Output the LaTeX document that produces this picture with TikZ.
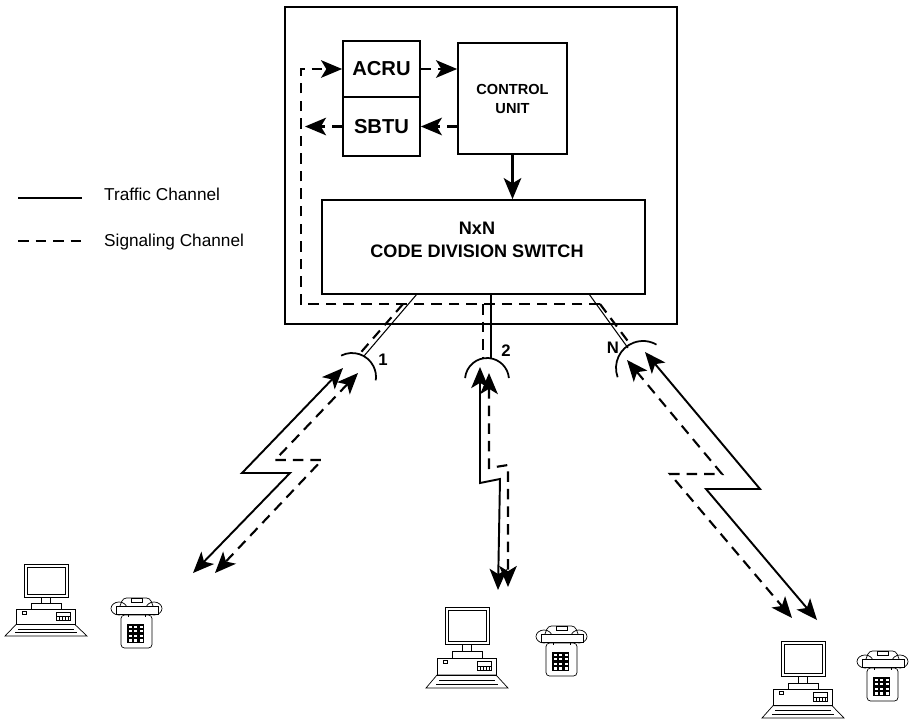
\documentclass[tikz,border=0pt]{standalone}
\usepackage{fontspec}
\setmainfont{Liberation Sans}
\usetikzlibrary{arrows.meta}

\tikzset{
    unit/.style={draw, line width=1pt, inner sep=0pt, align=center},
    traffic/.style={line width=1.1pt},
    signal/.style={line width=1.2pt, dash pattern=on 6pt off 4pt},
    feed/.style={line width=0.6pt},
    dish/.style={line width=1pt},
    chan/.style={font=\fontsize{9.5}{11}\selectfont\bfseries},
    computer/.pic={
        \draw[thin] (0,0) -- (82,0) -- (70,-13) -- (11,-13) -- cycle;
        \draw[thin] (10,-4) -- (72,-4) (13,-8) -- (69,-8);
        \draw[thin] (11,-13) rectangle (70,-30);
        \draw[thin] (17,-25) rectangle (21,-28);
        \draw[thin] (51,-22) rectangle (65,-27);
        \draw[thin] (51,-22) rectangle (65,-18);
        \foreach \k in {54,57,60,63}
            \draw[thin] (\k,-22) -- (\k,-18);
        \draw[thin] (26,-30) rectangle (56,-37);
        \draw[thin] (36,-37) rectangle (45,-44);
        \draw[thin] (19,-44) rectangle (63,-81);
        \draw[thin] (22,-47) rectangle (60,-78);
    },
    phone/.pic={
        \draw[thin, rounded corners=2] (10,18) rectangle (41,51);
        \draw[thin, rounded corners=2] (9,9) -- (12,1) -- (39,1) -- (42,9);
        \draw[thin] (20,1) rectangle (31,5);
        \draw[thin] (8,11.5) ellipse (8 and 6.5);
        \draw[thin] (43,11.5) ellipse (8 and 6.5);
        \draw[thin, fill=white] (5,9) rectangle (47,17);
        \draw[thin] (17,17) -- (17,20) (34,17) -- (34,20);
        \foreach \i in {0,1,2}
            \foreach \j in {0,...,3}
                \draw[line width=0.6pt] ({17+\i*5.5},{28+\j*4.6}) rectangle +(4.3,3.4);
    }
}

\begin{document}
\begin{tikzpicture}[x=0.02cm, y=-0.02cm, >={Stealth[length=12pt, width=10pt, inset=3pt]}]
    \useasboundingbox (0,0) rectangle (909,721);

    % exchange and its units
    \node[unit, minimum width=7.84cm, minimum height=6.34cm] (exch) at (481,165.5) {};
    \node[unit, minimum width=1.54cm, minimum height=1.12cm,
        font=\fontsize{11.5}{13}\selectfont\bfseries] (acru) at (381.5,69) {ACRU};
    \node[unit, minimum width=1.54cm, minimum height=1.18cm,
        font=\fontsize{11.5}{13}\selectfont\bfseries] (sbtu) at (381.5,126.5) {SBTU};
    \node[unit, minimum width=2.18cm, minimum height=2.22cm,
        font=\fontsize{8.3}{10.8}\selectfont\bfseries] (cu) at (512.5,98.5) {CONTROL\\UNIT};
    \node[unit, minimum width=6.46cm, minimum height=1.88cm] (sw) at (483.5,247) {};
    \node[font=\fontsize{10.3}{13.1}\selectfont\bfseries, align=center] (swtext)
        at (477,240) {NxN\\CODE DIVISION SWITCH};

    % signaling loop
    \coordinate (sbtuout) at (305,126.5);
    \coordinate (loopsw) at (301,304);
    \coordinate (loopse) at (600,304);
    \draw[signal, ->] (acru.east) -- (acru.east -| cu.west);
    \draw[signal, ->] (sbtu.east -| cu.west) -- (sbtu.east);
    \draw[signal, ->] (sbtu.west) -- (sbtuout);
    \draw[signal, ->] (loopse) -- (loopsw) -- (loopsw |- acru.west) -- (acru.west);
    \draw[traffic, line width=1.3pt, ->] (cu.south) -- (cu.south |- sw.north);

    % antennas
    \coordinate (ant1) at (352,377);
    \coordinate (ant2) at (487,380);
    \coordinate (antN) at (643,368);
    \draw[dish] ([shift={(-117:24)}]ant1) arc[start angle=-117, end angle=8, radius=24];
    \draw[dish] ([shift={(-175:22)}]ant2) arc[start angle=-175, end angle=-5, radius=22];
    \draw[dish] ([shift={(-200:27)}]antN) arc[start angle=-200, end angle=-60, radius=27];
    \node[chan] (ch1) at (383,360) {1};
    \node[chan] (ch2) at (506,351) {2};
    \node[chan] (chN) at (613,348) {N};

    % feeders from the switch
    \coordinate (sw1) at (417,294);
    \coordinate (sw2) at (491,294);
    \coordinate (swN) at (589,294);
    \coordinate (sg1) at (403,304);
    \coordinate (sg2) at (483,304);
    \coordinate (fd1) at (364,356);
    \coordinate (fd2) at (491,358);
    \coordinate (fdN) at (628,348);
    \coordinate (fs1) at (359.5,354);
    \coordinate (fs2) at (483,358);
    \coordinate (fsN) at (630,344);
    \draw[feed] (sw1) -- (fd1);
    \draw[feed] (sw2) -- (fd2);
    \draw[feed] (swN) -- (fdN);
    \draw[signal] (sg1) -- (fs1);
    \draw[signal] (sg2) -- (fs2);
    \draw[signal] (loopse) -- (fsN);

    % radio links
    \coordinate (r1a) at (343,368);
    \coordinate (r1b) at (193,573);
    \coordinate (s1a) at (358,373);
    \coordinate (s1b) at (215,573);
    \draw[traffic, <->] (r1a) -- (242,473) -- (290,473) -- (r1b);
    \draw[signal, <->] (s1a) -- (275,460) -- (322,460) -- (s1b);

    \coordinate (r2a) at (480,367);
    \coordinate (r2b) at (498,590);
    \coordinate (s2a) at (489,373);
    \coordinate (s2b) at (508,587);
    \draw[traffic, <->] (r2a) -- (480,483) -- (500,479) -- (r2b);
    \draw[signal, <->] (s2a) -- (489,468) -- (508,465) -- (s2b);

    \coordinate (rNa) at (645,352);
    \coordinate (rNb) at (817,620);
    \coordinate (sNa) at (627,360);
    \coordinate (sNb) at (792,618);
    \draw[traffic, <->] (rNa) -- (760,489) -- (706,489) -- (rNb);
    \draw[signal, <->] (sNa) -- (722,474) -- (670,474) -- (sNb);

    % terminals
    \pic[yscale=0.88] at (5,636) {computer};
    \pic at (111,597) {phone};
    \pic at (426,688) {computer};
    \pic at (536,625) {phone};
    \pic[yscale=0.95] at (762,718) {computer};
    \pic at (857,650) {phone};

    % legend
    \coordinate (lgt) at (18,198);
    \coordinate (lgs) at (18,241);
    \draw[traffic] (lgt) -- ++(64,0);
    \draw[signal] (lgs) -- ++(64,0);
    \node[anchor=base west, font=\fontsize{9.8}{12}\selectfont] (trafficlbl)
        at (98,200) {Traffic Channel};
    \node[anchor=base west, font=\fontsize{9.8}{12}\selectfont] (signallbl)
        at (98,246.5) {Signaling Channel};
\end{tikzpicture}
\end{document}
